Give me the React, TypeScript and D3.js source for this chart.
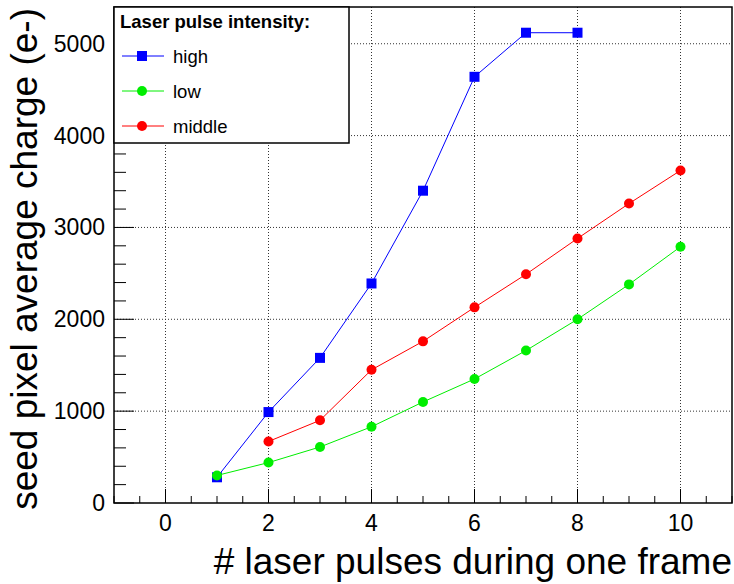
import React from "react";
import * as d3 from "d3";

const W = 734;
const H = 584;

const highX = [1, 2, 3, 4, 5, 6, 7, 8];
const highY = [280, 990, 1580, 2390, 3400, 4640, 5120, 5120];
const lowX = [1, 2, 3, 4, 5, 6, 7, 8, 9, 10];
const lowY = [300, 440, 610, 830, 1100, 1350, 1660, 2000, 2380, 2790];
const midX = [2, 3, 4, 5, 6, 7, 8, 9, 10];
const midY = [670, 900, 1450, 1760, 2130, 2490, 2880, 3260, 3620];

const xTicks = [0, 2, 4, 6, 8, 10];
const yTicks = [0, 1000, 2000, 3000, 4000, 5000];
const seriesNames = ["high", "low", "middle"];
const seriesColors = ["#0000ff", "#00ee00", "#ff0000"];

const L = 114, R = 732, T = 7, B = 503;

export default function App() {
  const x = d3.scaleLinear().domain([-1, 11]).range([L, R]);
  const y = d3.scaleLinear().domain([0, 5400]).range([B, T]);
  const line = d3
    .line<[number, number]>()
    .x((d) => x(d[0]))
    .y((d) => y(d[1]));

  const xMinor = d3.range(-1, 11.001, 0.5);
  const yMinor = d3.range(0, 5400, 200);

  const series = [
    { name: seriesNames[0], color: seriesColors[0], xs: highX, ys: highY, sq: true },
    { name: seriesNames[1], color: seriesColors[1], xs: lowX, ys: lowY, sq: false },
    { name: seriesNames[2], color: seriesColors[2], xs: midX, ys: midY, sq: false },
  ];
  const font = "Liberation Sans, Arial, sans-serif";

  return (
    <svg
      width={W}
      height={H}
      style={{ position: "absolute", left: 0, top: 0, background: "#fff" }}
      fontFamily={font}
    >
      <rect x={0} y={0} width={W} height={H} fill="#fff" />
      {/* grid */}
      {xTicks.map((t) => (
        <line key={"gx" + t} x1={x(t)} x2={x(t)} y1={T} y2={B} stroke="#333" strokeWidth={1} strokeDasharray="1,2" />
      ))}
      {yTicks.filter((t) => t > 0).map((t) => (
        <line key={"gy" + t} x1={L} x2={R} y1={y(t)} y2={y(t)} stroke="#333" strokeWidth={1} strokeDasharray="1,2" />
      ))}
      {/* ticks */}
      {xMinor.map((t) => {
        const major = Math.abs(t % 2) < 1e-9;
        return (
          <line key={"tx" + t} x1={x(t)} x2={x(t)} y1={B} y2={B - (major ? 14 : 7)} stroke="#000" strokeWidth={1} />
        );
      })}
      {yMinor.map((t) => {
        const major = t % 1000 === 0;
        return (
          <line key={"ty" + t} x1={L} x2={L + (major ? 20 : 12)} y1={y(t)} y2={y(t)} stroke="#000" strokeWidth={1} />
        );
      })}
      {/* frame */}
      <rect x={L} y={T} width={R - L} height={B - T} fill="none" stroke="#000" strokeWidth={1.5} />
      {/* tick labels */}
      {xTicks.map((t) => (
        <text key={"lx" + t} x={x(t)} y={531} textAnchor="middle" fontSize={23} fill="#000">
          {t}
        </text>
      ))}
      {yTicks.map((t) => (
        <text key={"ly" + t} x={105} y={y(t) + 8} textAnchor="end" fontSize={23} fill="#000">
          {t}
        </text>
      ))}
      {/* axis titles */}
      <text x={R} y={574} textAnchor="end" fontSize={37} fill="#000">
        # laser pulses during one frame
      </text>
      <text
        transform={`translate(37, ${T + 1}) rotate(-90)`}
        textAnchor="end"
        fontSize={37}
        fill="#000"
      >
        seed pixel average charge (e-)
      </text>
      {/* series */}
      {series.map((s) => {
        const pts: [number, number][] = s.xs.map((v, i) => [v, s.ys[i]]);
        return (
          <g key={s.name}>
            <path d={line(pts) || ""} fill="none" stroke={s.color} strokeWidth={1} />
            {pts.map((p, i) =>
              s.sq ? (
                <rect key={i} x={x(p[0]) - 5} y={y(p[1]) - 5} width={10} height={10} fill={s.color} />
              ) : (
                <circle key={i} cx={x(p[0])} cy={y(p[1])} r={5} fill={s.color} />
              )
            )}
          </g>
        );
      })}
      {/* legend */}
      <rect x={L} y={T} width={349 - L} height={143 - T} fill="#fff" stroke="#000" strokeWidth={1.5} />
      <text x={120} y={28} fontSize={18.5} fontWeight="bold" fill="#000">
        Laser pulse intensity:
      </text>
      {series.map((s, i) => {
        const cy = 56 + i * 35;
        return (
          <g key={"lg" + s.name}>
            <line x1={122} x2={164} y1={cy} y2={cy} stroke={s.color} strokeWidth={1} />
            {s.sq ? (
              <rect x={137} y={cy - 5} width={10} height={10} fill={s.color} />
            ) : (
              <circle cx={142} cy={cy} r={5} fill={s.color} />
            )}
            <text x={173} y={cy + 7} fontSize={18.5} fill="#000">
              {s.name}
            </text>
          </g>
        );
      })}
    </svg>
  );
}
